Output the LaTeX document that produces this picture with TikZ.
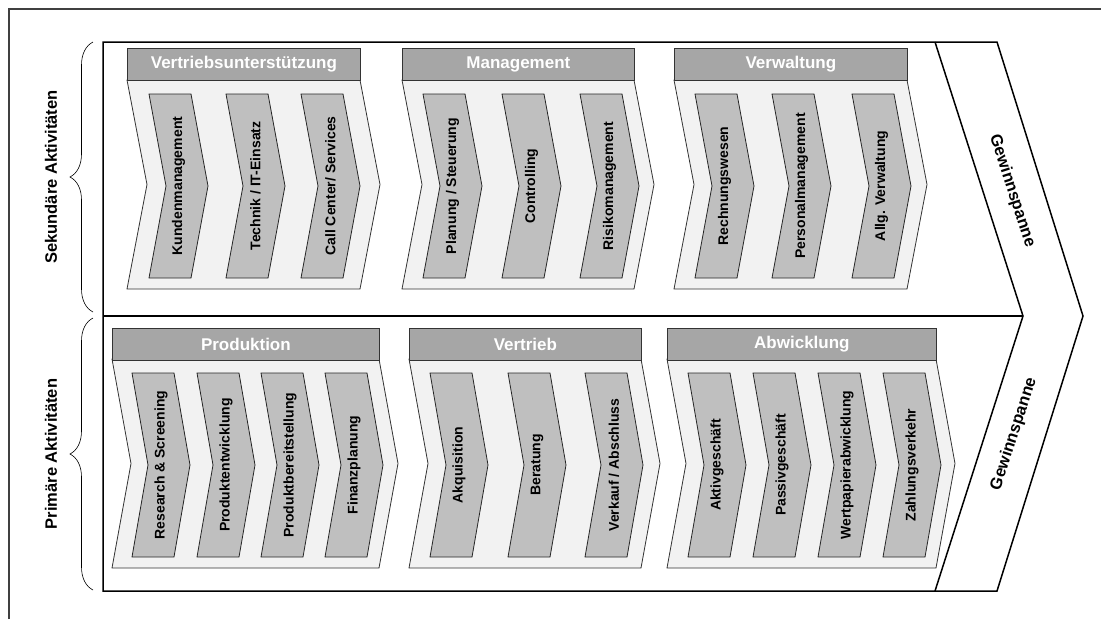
\documentclass[tikz,border=0pt]{standalone}
\usepackage{fontspec}
\setmainfont{Liberation Sans}
\usetikzlibrary{decorations.pathreplacing}

\definecolor{headgray}{HTML}{A6A6A6}
\definecolor{bodygray}{HTML}{F2F2F2}
\definecolor{itemgray}{HTML}{BFBFBF}

\tikzset{
  header/.style={draw=black!80, fill=headgray, line width=0.8pt, text=white,
    font=\fontsize{17}{20}\selectfont\bfseries, minimum height=32pt,
    anchor=north west, inner sep=0pt},
  groupbody/.style={draw=black!80, fill=bodygray, line width=0.8pt},
  itembox/.style={draw=black!85, fill=itemgray, line width=0.8pt},
  itemtext/.style={rotate=90, font=\fontsize{14}{16}\selectfont\bfseries},
  sidetext/.style={rotate=90, font=\fontsize{16.5}{19}\selectfont\bfseries},
  margintext/.style={font=\fontsize{16.5}{19}\selectfont\bfseries},
  bracket/.style={decorate, decoration={brace, amplitude=23pt}, line width=0.6pt}
}

% chevron: style, left x, right x, top y, bottom y, tip
\newcommand{\chevron}[6]{%
  \filldraw[#1] (#2,#4) -- (#3,#4) -- ({#3+#6},{(#4+#5)/2}) -- (#3,#5)
    -- (#2,#5) -- ({#2+#6},{(#4+#5)/2}) -- cycle;}

\begin{document}
\begin{tikzpicture}[x=1pt, y=-1pt]
  \useasboundingbox (0,0) rectangle (1103,619);

  % frame
  \draw[line width=1.5pt, black!75] (9,619) -- (9,9) -- (1101,9);

  % value chain body
  \draw[line width=1.5pt, fill=white] (103,42) -- (997,42) -- (1083,316) -- (997,591) -- (103,591) -- cycle;
  \draw[line width=1.5pt] (935,42) -- (1023,316) -- (935,591);
  \draw[line width=2.5pt] (103,316) -- (1023,316);

  \node[margintext, rotate=-72] (marge1) at (1012,191) {Gewinnspanne};
  \node[margintext, rotate=72] (marge2) at (1014,434) {Gewinnspanne};

  % braces
  \draw[bracket] (93,312) -- (93,42);
  \draw[bracket] (93,590) -- (93,318);
  \node[sidetext] (sek) at (51,177) {Sekundäre Aktivitäten};
  \node[sidetext] (prim) at (51,454) {Primäre Aktivitäten};

  % secondary groups
  \chevron{groupbody}{127}{360}{80}{289}{20}
  \chevron{groupbody}{402}{634}{80}{289}{20}
  \chevron{groupbody}{674}{907}{80}{289}{20}
  \node[header, minimum width=233pt] (vsu) at (127,48) {Vertriebsunterstützung};
  \node[header, minimum width=232pt] (mgmt) at (402,48) {Management};
  \node[header, minimum width=233pt] (verw) at (674,48) {Verwaltung};

  \foreach \x/\name/\txt in {149/kunden/Kundenmanagement, 226/technik/{Technik / IT-Einsatz},
      301/callc/{Call Center/ Services}, 423/planung/{Planung / Steuerung},
      502/controlling/Controlling, 580/risiko/Risikomanagement,
      695/rechnung/Rechnungswesen, 772/personal/Personalmanagement,
      852/allgverw/Allg. Verwaltung}{
    \chevron{itembox}{\x}{\x+42}{94}{278}{17}
    \node[itemtext] (\name) at ({\x+29.5},186) {\txt};
  }

  % primary groups
  \chevron{groupbody}{112}{379}{359}{568}{19}
  \chevron{groupbody}{409}{641}{359}{568}{19}
  \chevron{groupbody}{667}{936}{359}{568}{19}
  \node[header, minimum width=267pt] (prod) at (112,328) {Produktion};
  \node[header, minimum width=232pt] (vertr) at (409,328) {Vertrieb};
  \node[header, minimum width=269pt] (abw) at (667,328) {Abwicklung};

  \foreach \x/\name/\txt in {132/research/{Research \& Screening}, 197/prodentw/Produktentwicklung,
      261/prodber/Produktbereitstellung, 325/finanz/Finanzplanung,
      430/akquise/Akquisition, 508/beratung/Beratung, 585/verkauf/{Verkauf / Abschluss},
      688/aktiv/Aktivgeschäft, 753/passiv/Passivgeschäft,
      818/wertpapier/Wertpapierabwicklung, 883/zahlung/Zahlungsverkehr}{
    \chevron{itembox}{\x}{\x+42}{373}{557}{16}
    \node[itemtext] (\name) at ({\x+29},465) {\txt};
  }
\end{tikzpicture}
\end{document}
